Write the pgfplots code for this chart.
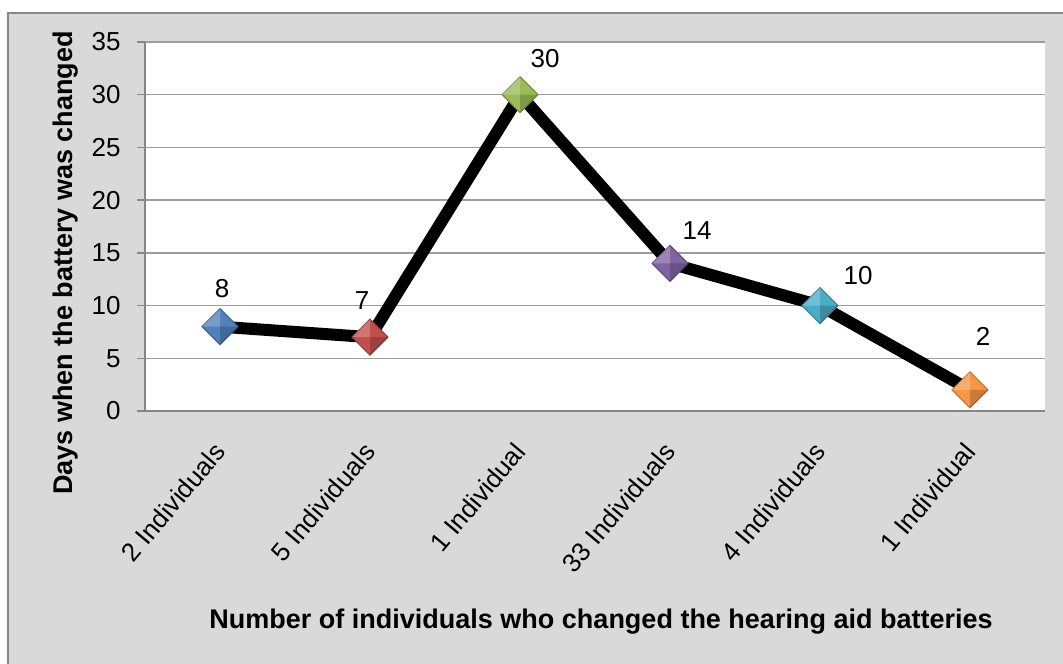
\documentclass[border=0pt]{standalone}
\usepackage{fontspec}
\setmainfont{Liberation Sans}
\usepackage{pgfplots}
\pgfplotsset{compat=1.18}
\usepackage{pgfplotstable}

\definecolor{panel}{HTML}{D9D9D9}
\definecolor{frameline}{HTML}{868686}
\definecolor{gridline}{HTML}{9C9C9C}
\definecolor{mk0}{HTML}{4F81BD}
\definecolor{mk1}{HTML}{C0504D}
\definecolor{mk2}{HTML}{9BBB59}
\definecolor{mk3}{HTML}{8064A2}
\definecolor{mk4}{HTML}{4BACC6}
\definecolor{mk5}{HTML}{F79646}

\newcommand\tickfont{\fontsize{26}{30}\selectfont}
\newcommand\titlefont{\fontsize{27}{31}\selectfont\bfseries}

% diamond marker with a light upper-left half and a dark lower-right half
\pgfdeclareplotmark{bevel}{%
  \pgfpathmoveto{\pgfqpoint{0pt}{\pgfplotmarksize}}%
  \pgfpathlineto{\pgfqpoint{\pgfplotmarksize}{0pt}}%
  \pgfpathlineto{\pgfqpoint{0pt}{-\pgfplotmarksize}}%
  \pgfpathlineto{\pgfqpoint{-\pgfplotmarksize}{0pt}}%
  \pgfpathclose
  \pgfusepathqfillstroke
  \begin{pgfscope}%
    \pgfsetfillopacity{0.22}\pgfsetfillcolor{white}%
    \pgfpathmoveto{\pgfpointorigin}%
    \pgfpathlineto{\pgfqpoint{0pt}{\pgfplotmarksize}}%
    \pgfpathlineto{\pgfqpoint{-\pgfplotmarksize}{0pt}}%
    \pgfpathclose
    \pgfusepathqfill
  \end{pgfscope}%
  \begin{pgfscope}%
    \pgfsetfillopacity{0.18}\pgfsetfillcolor{black}%
    \pgfpathmoveto{\pgfpointorigin}%
    \pgfpathlineto{\pgfqpoint{0pt}{-\pgfplotmarksize}}%
    \pgfpathlineto{\pgfqpoint{\pgfplotmarksize}{0pt}}%
    \pgfpathclose
    \pgfusepathqfill
  \end{pgfscope}%
}

% x: category index, y: days, lx/ly: label offset (pt)
\pgfplotstableread{
x y  lx ly
0 8  2  38
1 7  -8 37
2 30 25 36
3 14 27 33
4 10 38 30
5 2  13 53
}\batterydata

\begin{document}
\begin{tikzpicture}[x=1pt,y=1pt]
\useasboundingbox (0,0) rectangle (1063,664);
\draw[fill=panel, draw=frameline, line width=2pt] (8,651) rectangle (1080,-20);

\begin{axis}[
  at={(145pt,253pt)}, anchor=south west,
  width=900pt, height=369pt, scale only axis,
  clip=false,
  xmin=-0.5, xmax=5.5, ymin=0, ymax=35,
  xtick={0,...,5},
  xticklabels={2 Individuals,5 Individuals,1 Individual,33 Individuals,4 Individuals,1 Individual},
  ytick={0,5,...,35},
  axis background/.style={fill=white},
  axis x line*=bottom, axis y line*=left,
  axis line style={frameline, line width=2.5pt},
  ymajorgrids, grid style={gridline, line width=1.5pt},
  major x tick style={draw=none},
  major y tick style={frameline, line width=1.5pt},
  tick align=outside, major tick length=8pt,
  /pgf/number format/assume math mode=true,
  yticklabel style={font=\tickfont, text=black, xshift=-13pt},
  xticklabel style={font=\tickfont, text=black, xshift=2pt, yshift=-25pt,
    rotate=50, anchor=east},
]
\addplot[black, line width=12pt, line join=round] table[x=x, y=y] {\batterydata};
\pgfplotsinvokeforeach{0,...,5}{
  \addplot[only marks, mark=bevel, mark size=18pt,
    mark options={fill=mk#1, draw=mk#1!75!black, line width=1pt},
    restrict x to domain=#1:#1]
    table[x=x, y=y] {\batterydata};
}
\addplot[draw=none, mark=none, point meta=y,
  visualization depends on={\thisrow{lx} \as \labdx},
  visualization depends on={\thisrow{ly} \as \labdy},
  nodes near coords,
  every node near coord/.append style={font=\tickfont, text=black,
    anchor=center, xshift=\labdx pt, yshift=\labdy pt}]
  table[x=x, y=y] {\batterydata};
\end{axis}

\node[rotate=90, font=\titlefont] at (66,401) {Days when the battery was changed};
\node[font=\titlefont] at (601,42) {Number of individuals who changed the hearing aid batteries};
\end{tikzpicture}
\end{document}
